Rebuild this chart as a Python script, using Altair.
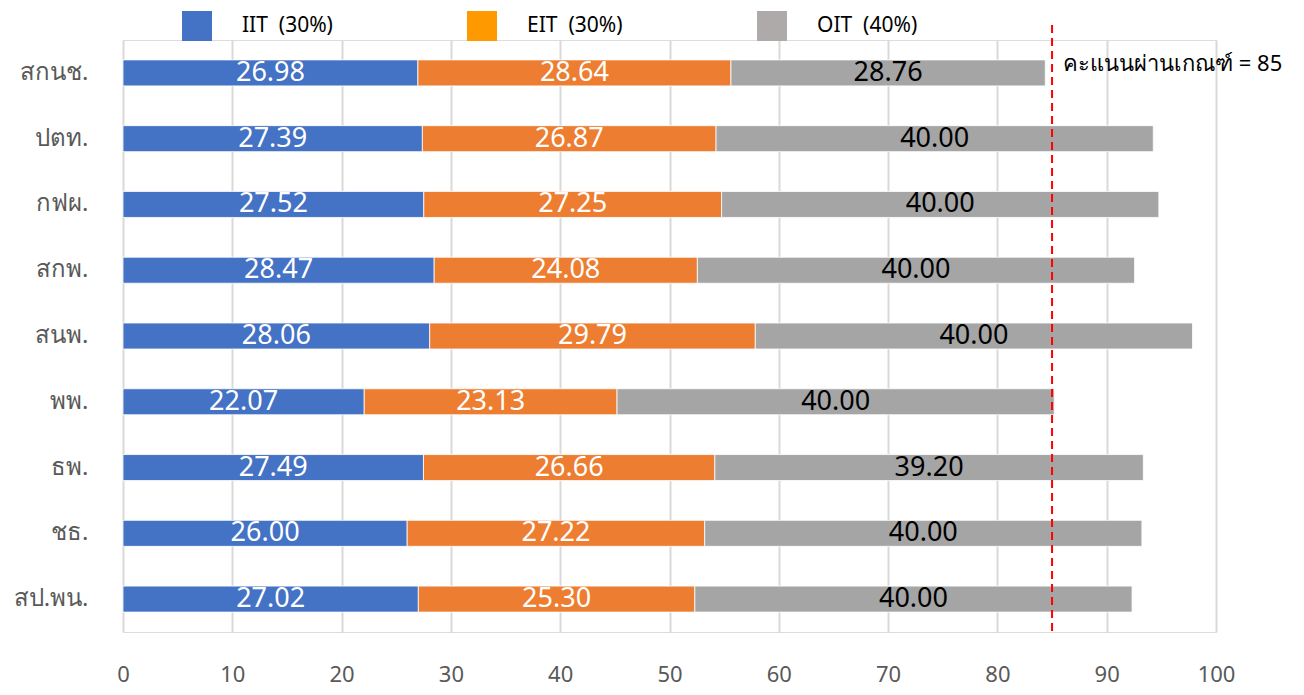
import altair as alt
import pandas as pd

categories = ["สกนช.", "ปตท.", "กฟผ.", "สกพ.", "สนพ.", "พพ.", "ธพ.", "ชธ.", "สป.พน."]
series = ["IIT", "EIT", "OIT"]
legend_labels = ["IIT\u00a0\u00a0(30%)", "EIT\u00a0\u00a0(30%)", "OIT\u00a0\u00a0(40%)"]
iit = [26.98, 27.39, 27.52, 28.47, 28.06, 22.07, 27.49, 26.00, 27.02]
eit = [28.64, 26.87, 27.25, 24.08, 29.79, 23.13, 26.66, 27.22, 25.30]
oit = [28.76, 40.00, 40.00, 40.00, 40.00, 40.00, 39.20, 40.00, 40.00]
pass_score = 85
pass_label = "คะแนนผ่านเกณฑ์ = 85"

bar_colors = ["#4472C4", "#ED7D31", "#A5A5A5"]
legend_colors = ["#4472C4", "#FF9900", "#AEAAAA"]

rows = []
for i, c in enumerate(categories):
    start = 0.0
    for s, lab, vals in zip(series, legend_labels, [iit, eit, oit]):
        v = vals[i]
        rows.append({"category": c, "series": s, "legend": lab, "value": v,
                     "start": start, "end": start + v, "mid": start + v / 2,
                     "label": f"{v:.2f}"})
        start += v
df = pd.DataFrame(rows)

FONT = "Noto Sans"

y_enc = alt.Y("category:N", sort=categories, title=None,
              scale=alt.Scale(paddingInner=0.6, paddingOuter=0.3),
              axis=alt.Axis(domain=False, ticks=False, grid=False, labelFontSize=24,
                            labelColor="#595959", labelPadding=35, labelFont=FONT))
x_enc = alt.X("start:Q", title=None,
              scale=alt.Scale(domain=[0, 100], nice=False),
              axis=alt.Axis(values=list(range(0, 101, 10)), domain=False, ticks=False,
                            grid=True, gridColor="#D9D9D9", gridWidth=2, labelFlush=False,
                            labelFontSize=22, labelColor="#595959", labelPadding=32,
                            labelFont=FONT))

base = alt.Chart(df)

bars = base.mark_bar(size=26, stroke="#FFFFFF", strokeWidth=0.8).encode(
    y=y_enc,
    x=x_enc,
    x2="end:Q",
    color=alt.Color("series:N", scale=alt.Scale(domain=series, range=bar_colors), legend=None),
)

labels = base.mark_text(fontSize=27, font=FONT, baseline="middle", align="center").encode(
    y=alt.Y("category:N", sort=categories),
    x=alt.X("mid:Q"),
    text="label:N",
    color=alt.condition(alt.datum.series == "OIT", alt.value("#000000"), alt.value("#FFFFFF")),
)

legend_layer = base.mark_square(opacity=0).encode(
    y=alt.Y("category:N", sort=categories),
    x=alt.X("start:Q"),
    fill=alt.Fill("legend:N", scale=alt.Scale(domain=legend_labels, range=legend_colors),
                  legend=alt.Legend(title=None, orient="none", legendX=59, legendY=-29,
                                    direction="horizontal", symbolType="square",
                                    symbolSize=900, symbolOpacity=1, symbolStrokeWidth=0,
                                    labelFontSize=21, labelFont=FONT, labelColor="#000000",
                                    labelOffset=30, columnPadding=134, padding=0)),
)

rule = alt.Chart(pd.DataFrame({"x": [pass_score]})).mark_rule(
    color="#FF0000", strokeWidth=2, strokeDash=[8, 5]
).encode(x=alt.X("x:Q"), y=alt.value(-15), y2=alt.value(592))

ann = alt.Chart(pd.DataFrame({"x": [pass_score], "category": [categories[0]], "t": [pass_label]})).mark_text(
    align="left", baseline="middle", fontSize=22, font=FONT, color="#000000", dx=11, dy=-9
).encode(x=alt.X("x:Q"), y=alt.Y("category:N", sort=categories), text="t:N")

chart = alt.layer(bars, labels, legend_layer, rule, ann).resolve_scale(
    fill="independent", color="independent"
).properties(
    width=1093, height=592,
    padding={"left": 115, "top": 32, "right": 80, "bottom": 55},
    autosize=alt.AutoSizeParams(type="none"),
).configure_view(stroke=None).configure(font=FONT)

chart.save("out.html", embed_options={"renderer": "svg", "actions": False})
